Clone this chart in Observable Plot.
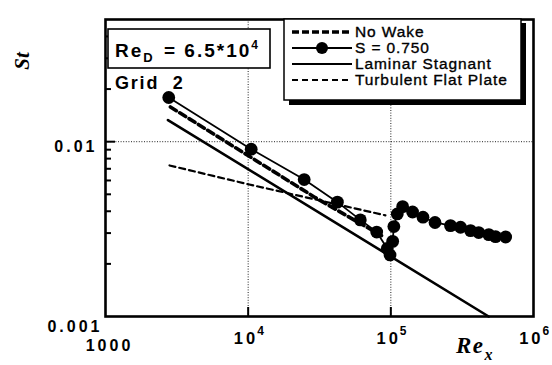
<!DOCTYPE html>
<html><head><meta charset="utf-8">
<script src="https://cdn.jsdelivr.net/npm/d3@7"></script>
<script src="https://cdn.jsdelivr.net/npm/@observablehq/plot@0.6"></script>
<style>body{margin:0;background:#fff} svg{display:block}</style>
</head><body><div id="chart"></div>
<script>
// ---- data ----
const laminarRe = [2740, 485000];
const laminarSt = [0.0133, 0.001];

const turbRe = [2810, 10000, 91600];
const turbSt = [0.00731, 0.00571, 0.00379];

const noWakeRe = [2850, 29400, 86000];
const noWakeSt = [0.0158, 0.0048, 0.0029];

const s750Re = [2775, 10500, 24700, 42200, 61100, 79600, 94400, 98700, 103000, 105000, 111000, 121000, 142000, 168000, 204000, 262000, 308000, 362000, 413000, 486000, 542000, 638000];
const s750St = [0.0179, 0.00906, 0.00607, 0.00451, 0.00357, 0.00304, 0.00245, 0.00225, 0.00269, 0.00327, 0.00386, 0.00425, 0.00396, 0.0037, 0.00345, 0.00331, 0.00324, 0.0031, 0.00302, 0.00294, 0.00286, 0.00285];

const xGrid = [1e4, 1e5];
const yGrid = [0.01];
const xTickValues = [1000, 1e4, 1e5, 1e6];
const xTickBase = ["1000", "10", "10", "10"];
const xTickExp = ["", "4", "5", "6"];
const yMinor = [0.002, 0.003, 0.004, 0.005, 0.006, 0.007, 0.008, 0.009, 0.02, 0.03, 0.04];
const yMajor = [0.01];
const xMajorTicks = [1e4, 1e5];

const legendLabels = ["No Wake", "S = 0.750", "Laminar Stagnant", "Turbulent Flat Plate"];

// ---- tables ----
const lam = laminarRe.map((r, i) => ({Re: r, St: laminarSt[i]}));
const turb = turbRe.map((r, i) => ({Re: r, St: turbSt[i]}));
const noWake = noWakeRe.map((r, i) => ({Re: r, St: noWakeSt[i]}));
const s750 = s750Re.map((r, i) => ({Re: r, St: s750St[i]}));

const W = 552, H = 365, ML = 105, MR = 19, MT = 19, MB = 49;
const PW = W - ML - MR, PH = H - MT - MB;
const bold = {fontWeight: "bold", fill: "black", fontFamily: "Liberation Sans, Arial, sans-serif"};

const svg = Plot.plot({
  width: W, height: H,
  marginLeft: ML, marginRight: MR, marginTop: MT, marginBottom: MB,
  x: {type: "log", domain: [1000, 1e6], axis: null},
  y: {type: "log", domain: [0.001, 0.05], axis: null},
  style: {background: "white", fontFamily: "Liberation Sans, Arial, sans-serif"},
  marks: [
    Plot.ruleX(xGrid, {stroke: "#222", strokeWidth: 1, strokeDasharray: "1,1.6"}),
    Plot.ruleY(yGrid, {stroke: "#222", strokeWidth: 1, strokeDasharray: "1,1.6"}),
    Plot.line(lam, {x: "Re", y: "St", stroke: "black", strokeWidth: 2.6}),
    Plot.line(turb, {x: "Re", y: "St", stroke: "black", strokeWidth: 2.2, strokeDasharray: "6,4"}),
    Plot.line(noWake, {x: "Re", y: "St", stroke: "black", strokeWidth: 3.6, strokeDasharray: "7,4"}),
    Plot.line(s750, {x: "Re", y: "St", stroke: "black", strokeWidth: 1.8}),
    Plot.dot(s750, {x: "Re", y: "St", r: 6.4, fill: "black"}),
    // inner ticks
    Plot.ruleY(yMinor, {y: d => d, insetRight: PW - 6, stroke: "black", strokeWidth: 2}),
    Plot.ruleY(yMajor, {y: d => d, insetRight: PW - 10, stroke: "black", strokeWidth: 2}),
    Plot.ruleX(xMajorTicks, {x: d => d, insetTop: PH - 9, stroke: "black", strokeWidth: 2}),
    Plot.frame({stroke: "black", strokeWidth: 2.6}),
    // y tick labels
    Plot.text([0.01], {x: 1000, y: d => d, text: () => "0.01", textAnchor: "end", dx: -8, dy: 5, fontSize: 16, ...bold}),
    Plot.text([0.001], {x: 1000, y: d => d, text: () => "0.001", textAnchor: "end", dx: -3, dy: 10, fontSize: 16, ...bold}),
    // x tick labels
    Plot.text(xTickValues.slice(0, 1), {x: d => d, y: 0.001, text: (d, i) => xTickBase[i], dx: 4, dy: 29, fontSize: 16, ...bold}),
    Plot.text(xTickValues.slice(1), {x: d => d, y: 0.001, text: (d, i) => xTickBase[i + 1], textAnchor: "end", dx: 10, dy: 22, fontSize: 16.5, ...bold}),
    Plot.text(xTickValues.slice(1), {x: d => d, y: 0.001, text: (d, i) => xTickExp[i + 1], textAnchor: "start", dx: 9, dy: 15, fontSize: 12, ...bold})
  ]
});
document.getElementById("chart").appendChild(svg);

const g = d3.select(svg);
g.selectAll('g[aria-label="text"] text').filter(function() { return this.textContent.length > 1; }).attr("letter-spacing", 3);

const sans = "Liberation Sans, Arial, sans-serif";
const serif = "Liberation Serif, Times New Roman, serif";

// Re_D box
const a = g.append("g").attr("font-family", sans).attr("font-weight", "bold").attr("fill", "black").attr("text-anchor", "start");
a.append("rect").attr("x", 108).attr("y", 29).attr("width", 162).attr("height", 39)
  .attr("fill", "white").attr("stroke", "black").attr("stroke-width", 1.6);
const t = a.append("text").attr("x", 115).attr("y", 57).attr("font-size", 19).attr("letter-spacing", 2);
t.append("tspan").text("Re");
t.append("tspan").attr("font-size", 13).attr("dy", 5).text("D");
t.append("tspan").attr("dy", -5).attr("dx", 2).text(" = 6.5*10");
t.append("tspan").attr("font-size", 12).attr("dy", -8).text("4");
a.append("text").attr("x", 115).attr("y", 89).attr("font-size", 18).attr("letter-spacing", 1.8)
  .style("white-space", "pre").text("Grid  2");

// legend
const L = g.append("g").attr("font-family", sans).attr("text-anchor", "start");
L.append("rect").attr("x", 521).attr("y", 23).attr("width", 5).attr("height", 82).attr("fill", "black");
L.append("rect").attr("x", 289).attr("y", 100).attr("width", 237).attr("height", 5).attr("fill", "black");
L.append("rect").attr("x", 284).attr("y", 19).attr("width", 237).attr("height", 81)
  .attr("fill", "white").attr("stroke", "black").attr("stroke-width", 1.5);
const rowsY = [32, 48, 64, 80];
const styles = [
  {w: 3.6, dash: "7,3"},
  {w: 1.8, dash: null, dot: true},
  {w: 2.2, dash: null},
  {w: 2.2, dash: "6,4"}
];
legendLabels.forEach((lab, i) => {
  const y = rowsY[i], s = styles[i];
  L.append("line").attr("x1", 292).attr("x2", 352).attr("y1", y).attr("y2", y)
    .attr("stroke", "black").attr("stroke-width", s.w).attr("stroke-dasharray", s.dash);
  if (s.dot) L.append("circle").attr("cx", 322).attr("cy", y).attr("r", 6).attr("fill", "black");
  L.append("text").attr("x", 355).attr("y", y + 5).attr("font-size", 15.5).attr("letter-spacing", 0.9).attr("fill", "black")
    .attr("stroke", "black").attr("stroke-width", 0.35).text(lab);
});

// axis titles
g.append("text").attr("transform", "translate(29,61) rotate(-90)").attr("text-anchor", "middle")
  .attr("font-family", serif).attr("font-weight", "bold").attr("font-style", "italic").attr("font-size", 21).text("St");
const rx = g.append("text").attr("x", 456).attr("y", 353).attr("text-anchor", "start").attr("font-family", serif)
  .attr("font-weight", "bold").attr("font-style", "italic").attr("font-size", 23).attr("letter-spacing", 1.5);
rx.append("tspan").text("Re");
rx.append("tspan").attr("font-size", 16).attr("dy", 7).text("x");
</script>
</body></html>
